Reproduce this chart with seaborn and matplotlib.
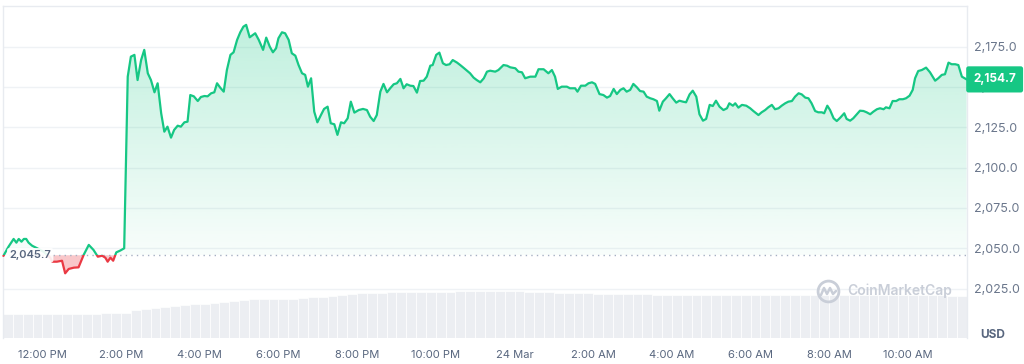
import numpy as np
import pandas as pd
import matplotlib
matplotlib.use("Agg")
import matplotlib.pyplot as plt
import matplotlib.transforms as mtransforms
from matplotlib.path import Path
from matplotlib.patches import Rectangle
from matplotlib.lines import Line2D
import seaborn as sns

# ---------------- data (hours since 23 Mar 00:00) ----------------
price_time_h = [
    11.01, 11.14, 11.27, 11.34, 11.40, 11.47, 11.53, 11.59, 11.65, 11.74, 11.87, 12.03, 12.20, 12.25, 12.37, 12.50,
    12.58, 12.67, 12.80, 12.92, 13.05, 13.18, 13.30, 13.41, 13.52, 13.60, 13.66, 13.73, 13.80, 13.88, 13.98, 14.08,
    14.17, 14.25, 14.34, 14.42, 14.51, 14.59, 14.68, 14.76, 14.85, 14.93, 15.02, 15.10, 15.18, 15.27, 15.35, 15.44,
    15.52, 15.61, 15.69, 15.76, 15.85, 15.95, 16.03, 16.12, 16.20, 16.29, 16.37, 16.44, 16.52, 16.61, 16.69, 16.78,
    16.86, 16.95, 17.03,
    17.11, 17.18, 17.27, 17.41, 17.50, 17.61, 17.69, 17.78, 17.86, 17.94, 18.00, 18.09, 18.17, 18.26, 18.34, 18.43,
    18.51, 18.60, 18.68, 18.75, 18.83, 18.91, 18.99, 19.08, 19.16, 19.25, 19.33, 19.42, 19.50, 19.59, 19.67, 19.76,
    19.84, 19.93, 20.04, 20.15,
    20.25, 20.33, 20.42, 20.50, 20.59, 20.67, 20.76, 20.84, 20.93, 21.01, 21.10, 21.18, 21.26, 21.35, 21.43, 21.52,
    21.60, 21.69, 21.77, 21.86, 21.92, 22.01, 22.09, 22.18, 22.26, 22.35, 22.43, 22.54, 22.62, 22.70, 22.79, 22.87,
    22.96, 23.04, 23.13,
    23.22, 23.30, 23.38, 23.51, 23.59, 23.72, 23.81, 23.89, 24.02, 24.10, 24.19, 24.27, 24.40, 24.53, 24.61, 24.74,
    24.86, 24.95, 25.03, 25.10, 25.20, 25.33, 25.41, 25.54, 25.60, 25.69, 25.80, 25.88, 25.97, 26.05, 26.16, 26.26,
    26.35, 26.43, 26.52, 26.60, 26.69, 26.77, 26.85, 26.94, 27.02, 27.11, 27.19, 27.28, 27.36, 27.45, 27.53, 27.62,
    27.68, 27.77, 27.85, 27.94, 28.02, 28.11, 28.19, 28.28, 28.36, 28.45, 28.53, 28.62, 28.70, 28.79, 28.87, 28.96,
    29.04, 29.12, 29.21, 29.31,
    29.40, 29.46, 29.55, 29.61, 29.69, 29.78, 29.89, 29.99, 30.07, 30.20, 30.28, 30.37, 30.45, 30.54, 30.62, 30.71,
    30.79, 30.88, 30.96, 31.05, 31.13, 31.22, 31.30, 31.39, 31.47, 31.55, 31.64, 31.72, 31.81, 31.87, 31.95, 32.02,
    32.11, 32.19, 32.28, 32.38,
    32.44, 32.53, 32.61, 32.70, 32.78, 32.87, 32.95, 33.04, 33.12, 33.21, 33.29, 33.38, 33.44, 33.53, 33.61, 33.70,
    33.78, 33.87, 33.95, 34.04, 34.12, 34.18, 34.26, 34.35, 34.46, 34.56, 34.69, 34.77, 34.86, 34.94, 35.03, 35.11,
    35.20, 35.28, 35.37, 35.49,
]
price_usd = [
    2045.3, 2051.0, 2055.8, 2053.5, 2055.8, 2054.1, 2055.8, 2055.8, 2053.5, 2051.6, 2050.0, 2047.9, 2044.2, 2041.7, 2041.7, 2042.3,
    2034.5, 2037.2, 2038.0, 2038.2, 2045.9, 2052.1, 2049.0, 2044.8, 2045.4, 2044.2, 2041.7, 2044.2, 2042.3, 2047.5, 2048.6, 2050.0,
    2156.4, 2168.8, 2169.9, 2154.3, 2166.7, 2173.0, 2158.5, 2154.3, 2146.7, 2152.3, 2133.7, 2122.3, 2125.4, 2118.6, 2123.4, 2126.0,
    2125.4, 2128.1, 2128.5, 2145.0, 2144.2, 2141.3, 2143.8, 2144.4, 2144.2, 2146.1, 2146.7, 2152.3, 2149.6, 2147.1, 2160.5, 2169.9,
    2171.5, 2179.2, 2183.9,
    2187.4, 2188.5, 2180.8, 2183.3, 2179.2, 2173.0, 2180.6, 2175.0, 2171.5, 2174.0, 2180.2, 2183.9, 2183.3, 2179.2, 2170.9, 2169.4,
    2163.7, 2158.5, 2157.5, 2150.2, 2155.4, 2134.7, 2128.1, 2132.6, 2136.4, 2137.8, 2127.5, 2126.9, 2120.3, 2128.1, 2127.5, 2130.6,
    2140.9, 2134.1, 2135.7, 2136.4,
    2135.7, 2131.6, 2128.9, 2132.6, 2147.1, 2151.9, 2146.7, 2149.2, 2151.7, 2152.3, 2155.0, 2149.2, 2151.7, 2150.8, 2150.6, 2146.5,
    2153.7, 2153.9, 2156.4, 2163.2, 2163.6, 2169.9, 2171.3, 2164.7, 2163.6, 2164.1, 2166.7, 2165.1, 2163.6, 2162.0, 2160.1, 2158.5,
    2155.8, 2154.3, 2152.9,
    2155.4, 2159.5, 2160.1, 2159.5, 2160.5, 2163.6, 2163.2, 2162.2, 2161.6, 2159.5, 2159.1, 2155.4, 2156.4, 2156.4, 2161.0, 2161.0,
    2158.5, 2160.5, 2156.4, 2148.8, 2150.2, 2150.2, 2149.2, 2149.2, 2147.1, 2150.8, 2150.8, 2152.3, 2152.9, 2151.9, 2145.6, 2145.0,
    2143.4, 2144.4, 2148.8, 2145.6, 2148.2, 2149.2, 2147.1, 2148.2, 2151.9, 2149.8, 2147.5, 2147.1, 2144.0, 2143.0, 2142.4, 2141.3,
    2135.3, 2140.9, 2143.0, 2145.6, 2143.0, 2140.3, 2141.5, 2140.9, 2140.5, 2145.4, 2147.7, 2144.0, 2133.1, 2129.1, 2130.2, 2138.9,
    2138.2, 2141.5, 2137.8, 2135.7,
    2136.8, 2139.9, 2138.4, 2139.9, 2137.2, 2138.9, 2138.4, 2136.8, 2135.1, 2132.6, 2134.3, 2135.7, 2137.4, 2138.9, 2136.2, 2136.8,
    2138.4, 2139.9, 2140.9, 2141.3, 2144.0, 2146.1, 2145.4, 2143.4, 2143.0, 2139.9, 2135.1, 2134.3, 2134.3, 2133.7, 2138.4, 2135.7,
    2130.6, 2128.9, 2131.0, 2133.7,
    2130.2, 2129.1, 2130.6, 2133.1, 2135.3, 2135.1, 2134.3, 2133.1, 2134.7, 2136.2, 2136.8, 2136.2, 2137.4, 2136.8, 2141.3, 2141.3,
    2142.4, 2142.4, 2143.0, 2144.6, 2148.2, 2155.4, 2159.9, 2160.5, 2162.0, 2159.1, 2153.9, 2155.4, 2157.5, 2157.9, 2165.1, 2164.1,
    2164.1, 2163.6, 2156.4, 2154.7,
]
open_price = 2045.7
last_price = 2154.7

# volume (relative bar heights), one value per 15-minute bin from 11:00 to 11:30 next day
volume_rel = [
    24, 24, 24, 24,   24, 24, 24, 24,   24, 24, 25, 25,   25, 28, 29, 30,
    31, 32, 33, 34,   34, 35, 36, 37,   38, 39, 39, 39,   39, 39, 40, 41,
    41, 42, 43, 44,   45, 45, 45, 46,   46, 46, 46, 46,   46, 46, 47, 47,
    47, 47, 47, 47,   47, 46, 46, 46,   45, 45, 45, 45,   44, 44, 44, 44,
    44, 44, 43, 43,   43, 43, 43, 43,   43, 43, 43, 43,   43, 43, 43, 43,
    43, 43, 43, 43,   43, 43, 43, 43,   43, 43, 43, 43,   43, 43, 43, 43,
    42, 42,
]
volume_time_h = [11.125 + 0.25 * i for i in range(len(volume_rel))]

y_ticks = [2025.0, 2050.0, 2075.0, 2100.0, 2125.0, 2150.0, 2175.0]
x_tick_hours = [12, 14, 16, 18, 20, 22, 24, 26, 28, 30, 32, 34]
x_tick_labels = ["12:00 PM", "2:00 PM", "4:00 PM", "6:00 PM", "8:00 PM", "10:00 PM",
                 "24 Mar", "2:00 AM", "4:00 AM", "6:00 AM", "8:00 AM", "10:00 AM"]

# ---------------- style ----------------
sns.set_theme(style="white")
plt.rcParams['font.family'] = ['Inter', 'DejaVu Sans']

GREEN = '#16c784'
RED = '#ea3943'
TXT = '#58667e'
GRID = '#eff2f5'

W, H = 1024, 364
fig = plt.figure(figsize=(W / 100, H / 100), dpi=100)
pos = [3 / W, 26 / H, 964 / W, 332 / H]
vol_ax = fig.add_axes(pos)

XMIN, XMAX = 11.0, 35.5
YMIN, YMAX = 1994.4, 2200.2

# volume bars
vdf = pd.DataFrame({'t': volume_time_h, 'v': volume_rel})
sns.barplot(data=vdf, x='t', y='v', native_scale=True, width=1.0, errorbar=None,
            color='#eceef2', saturation=1, edgecolor='white', linewidth=0.5, ax=vol_ax)
vol_ax.set_ylim(0, 332)
vol_ax.set_xlim(XMIN, XMAX)
vol_ax.xaxis.set_visible(False)
vol_ax.yaxis.set_visible(False)
for s in vol_ax.spines.values():
    s.set_visible(False)

ax = fig.add_axes(pos)
ax.patch.set_alpha(0)

# price
df = pd.DataFrame({'t': price_time_h, 'p': price_usd})
t = np.array(price_time_h)
p = np.array(price_usd)

ax.set_xlim(XMIN, XMAX)
ax.set_ylim(YMIN, YMAX)

# green gradient fill above the open price
poly = ax.fill_between(t, p, open_price, where=p >= open_price, interpolate=True,
                       color='none', lw=0)
clip = Path.make_compound_path(*poly.get_paths())
img = np.zeros((256, 1, 4))
img[..., :3] = matplotlib.colors.to_rgb(GREEN)
img[..., 3] = np.linspace(0.27, 0.03, 256)[:, None]
im = ax.imshow(img, extent=[XMIN, XMAX, open_price, p.max()], aspect='auto',
               origin='upper', zorder=1, interpolation='bilinear')
im.set_clip_path(clip, transform=ax.transData)

# red fill below the open price
ax.fill_between(t, p, open_price, where=p < open_price, interpolate=True,
                color=RED, alpha=0.28, lw=0, zorder=1)

# lines
sns.lineplot(data=df, x='t', y='p', color=GREEN, lw=1.6, ax=ax, zorder=3)
line_g = ax.lines[-1]
line_g.set_clip_path(Rectangle((XMIN - 1, open_price), 40, 400, transform=ax.transData))
sns.lineplot(data=df, x='t', y='p', color=RED, lw=1.6, ax=ax, zorder=3)
line_r = ax.lines[-1]
line_r.set_clip_path(Rectangle((XMIN - 1, open_price - 400), 40, 400, transform=ax.transData))

ax.axhline(open_price, color='#a6b0c3', ls=(0, (1, 3)), lw=1, zorder=2)
ax.set_xlim(XMIN, XMAX)
ax.set_ylim(YMIN, YMAX)

# axes cosmetics
ax.set_xlabel('')
ax.set_ylabel('')
ax.set_yticks(y_ticks)
ax.set_yticklabels([f"{v:,.1f}" for v in y_ticks])
ax.yaxis.tick_right()
ax.set_xticks(x_tick_hours)
ax.set_xticklabels(x_tick_labels)
ax.tick_params(axis='y', length=0, pad=5, labelsize=9, labelcolor='#6b778c')
ax.tick_params(axis='x', length=0, pad=9, labelsize=8, labelcolor=TXT)
ax.grid(axis='y', color=GRID, lw=1)
ax.grid(axis='x', visible=False)
ax.set_axisbelow(True)
for side in ['top', 'left', 'right']:
    ax.spines[side].set_color('#e8ebf0')
    ax.spines[side].set_linewidth(1)
ax.spines['bottom'].set_visible(False)

# open price label
ax.text(11.16, open_price, "2,045.7", ha='left', va='center', fontsize=8, color=TXT,
        fontweight='semibold', zorder=6,
        bbox=dict(boxstyle='round,pad=0.2', fc='white', ec='none', alpha=0.9))

# current price badge
trans = mtransforms.blended_transform_factory(ax.transAxes, ax.transData)
ax.text(1.0065, last_price, "2,154.7", transform=trans, ha='left', va='center', fontsize=8.5,
        fontweight='bold', color='white', zorder=7, clip_on=False,
        bbox=dict(boxstyle='round,pad=0.6,rounding_size=0.2', fc=GREEN, ec='none'))

# USD
fig.text(993 / W, 1 - 335 / H, "USD", ha='center', va='center', fontsize=8.5,
         fontweight='bold', color=TXT)

# watermark
WM = '#c9ced8'
fig.text(847 / W, 1 - 291 / H, "CoinMarketCap", ha='left', va='center', fontsize=10,
         fontweight='semibold', color=WM)
fig.add_artist(Line2D([828 / W], [1 - 291 / H], marker='o', markersize=15, mfc='none',
                      mec=WM, mew=2, transform=fig.transFigure))
wx = [821, 824, 827, 830, 833, 836]
wy = [295, 288, 294, 288, 294, 291]
fig.add_artist(Line2D([x / W for x in wx], [1 - y / H for y in wy], color=WM, lw=1.8,
                      transform=fig.transFigure))

fig.savefig("out.png", dpi=100)
